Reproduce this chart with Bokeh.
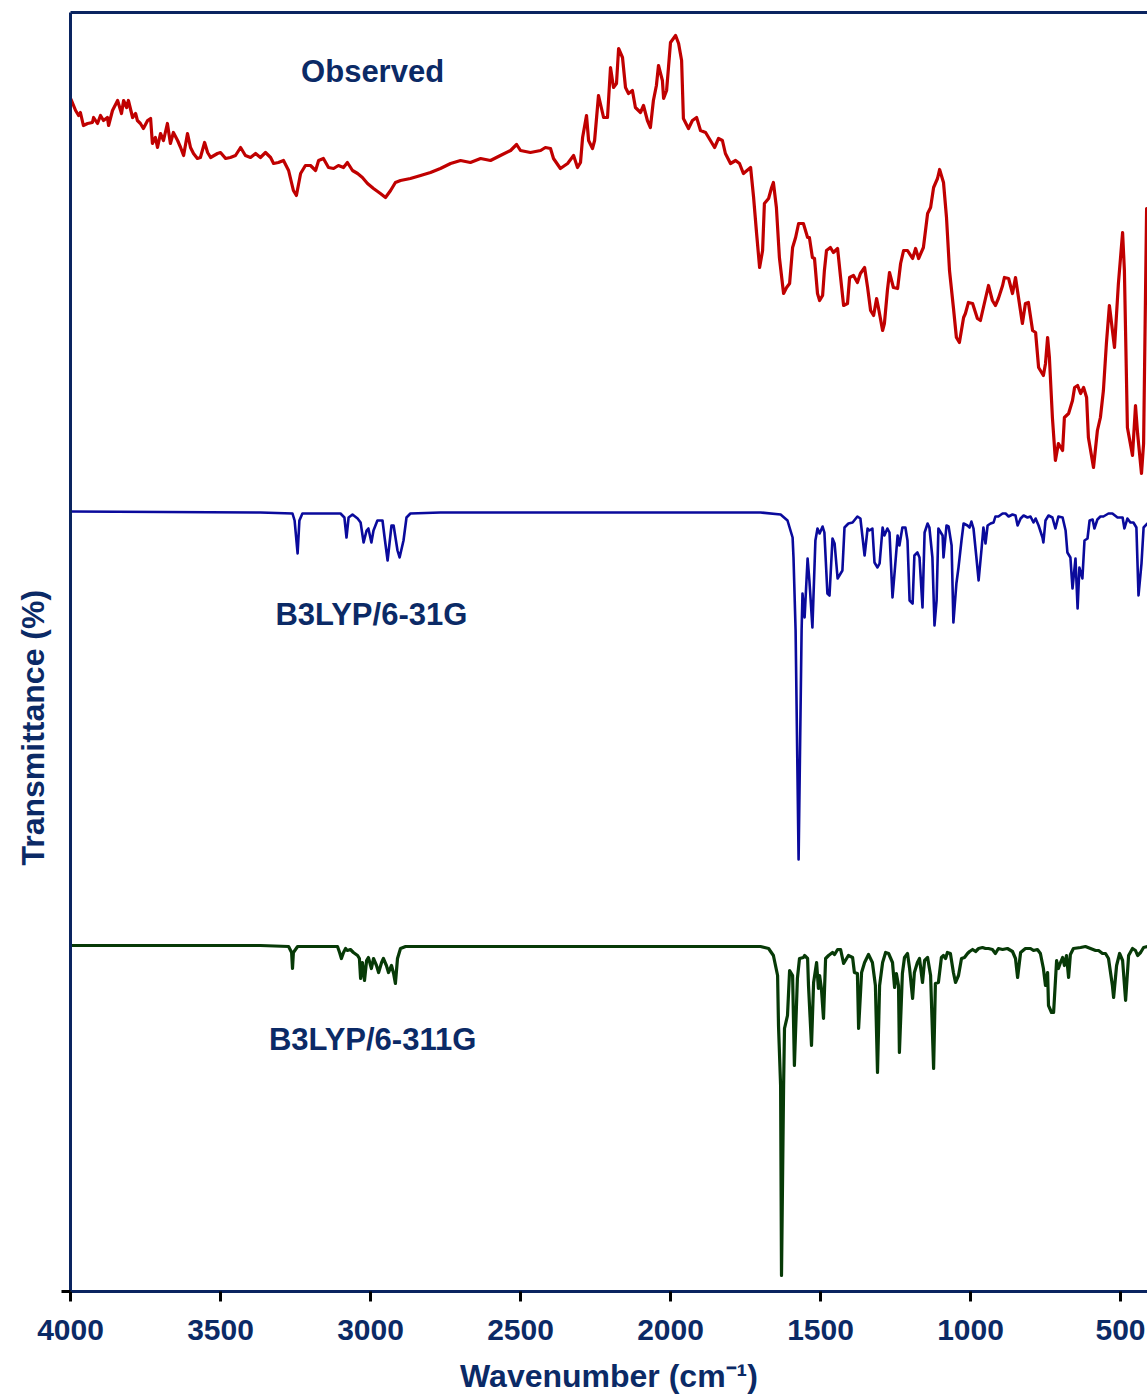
from bokeh.plotting import figure
from bokeh.models import Range1d, FixedTicker, LinearAxis, Label, Title
from bokeh.embed import file_html
from bokeh.resources import INLINE

# ---------------- data (wavenumber cm-1, offset transmittance a.u.) ----------------
observed = [(3998,1191),(3983,1180),(3973,1175),(3967,1178),(3957,1165),(3943,1167),(3927,1168),(3923,1173),
    (3910,1167),(3900,1175),(3890,1170),(3877,1173),(3873,1165),(3860,1180),(3843,1190),(3830,1177),(3823,1190),
    (3813,1183),(3807,1190),(3793,1173),(3783,1177),(3777,1170),(3767,1167),(3757,1162),(3743,1170),(3733,1172),
    (3727,1147),(3717,1153),(3710,1143),(3700,1157),(3690,1150),(3677,1167),(3667,1147),(3657,1158),(3643,1150),
    (3633,1143),(3623,1135),(3610,1157),(3600,1143),(3590,1137),(3577,1132),(3567,1133),(3553,1148),(3543,1138),
    (3533,1133),(3510,1137),(3500,1138),(3483,1132),(3467,1133),(3450,1135),(3433,1143),(3417,1135),(3400,1133),
    (3383,1137),(3367,1133),(3350,1138),(3333,1133),(3323,1127),(3307,1128),(3290,1130),(3273,1120),(3257,1100),
    (3247,1095),(3233,1117),(3217,1125),(3200,1125),(3183,1120),(3173,1130),(3157,1132),(3140,1123),(3123,1122),
    (3107,1125),(3090,1123),(3077,1128),(3060,1120),(3043,1117),(3027,1113),(3010,1107),(2990,1102),(2967,1097),
    (2950,1093),(2933,1100),(2917,1108),(2900,1110),(2867,1112),(2833,1115),(2800,1118),(2767,1122),(2733,1127),
    (2700,1130),(2667,1128),(2633,1132),(2600,1130),(2567,1135),(2533,1140),(2513,1146),(2500,1140),(2467,1138),
    (2433,1140),(2417,1143),(2400,1142),(2390,1132),(2367,1122),(2343,1127),(2323,1135),(2310,1123),(2300,1128),
    (2293,1153),(2280,1175),(2273,1150),(2260,1142),(2253,1150),(2240,1195),(2223,1173),(2210,1173),(2200,1223),
    (2190,1203),(2180,1207),(2173,1242),(2160,1233),(2150,1203),(2140,1197),(2127,1200),(2117,1183),(2100,1178),
    (2090,1185),(2077,1170),(2067,1163),(2057,1190),(2047,1205),(2040,1225),(2027,1210),(2023,1192),(2013,1200),
    (2007,1222),(2000,1248),(1983,1255),(1973,1247),(1963,1230),(1957,1172),(1940,1162),(1927,1170),(1913,1173),
    (1900,1160),(1883,1158),(1867,1150),(1853,1143),(1840,1152),(1827,1150),(1817,1137),(1800,1127),(1783,1130),
    (1770,1127),(1757,1117),(1733,1123),(1723,1093),(1713,1057),(1703,1023),(1693,1040),(1687,1087),(1673,1092),
    (1663,1103),(1657,1108),(1647,1083),(1637,1033),(1627,1007),(1623,997),(1613,1003),(1603,1007),(1593,1043),
    (1583,1053),(1573,1067),(1557,1067),(1543,1053),(1537,1053),(1527,1033),(1520,1032),(1510,997),(1503,990),
    (1493,995),(1487,1020),(1480,1040),(1467,1043),(1457,1038),(1443,1042),(1433,1013),(1423,985),(1410,987),
    (1403,1013),(1390,1015),(1377,1008),(1367,1017),(1353,1023),(1343,1003),(1333,980),(1323,975),(1313,992),
    (1307,983),(1293,960),(1287,967),(1277,1000),(1270,1018),(1257,1003),(1243,1002),(1233,1027),(1223,1040),
    (1210,1040),(1193,1032),(1183,1042),(1173,1032),(1157,1043),(1143,1077),(1133,1083),(1123,1103),(1110,1112),
    (1103,1121),(1090,1108),(1080,1073),(1070,1020),(1057,983),(1047,953),(1037,948),(1023,973),(1017,977),
    (1007,988),(993,987),(977,972),(967,970),(957,983),(940,1005),(927,990),(917,985),(907,992),(893,1005),
    (887,1013),(873,1012),(860,997),(850,1013),(840,993),(827,967),(817,987),(807,988),(793,960),(783,958),
    (773,923),(757,915),(750,927),(743,953),(737,933),(727,873),(717,830),(707,847),(693,840),(687,873),(673,877),
    (660,890),(653,903),(643,905),(633,897),(623,903),(613,893),(607,853),(590,823),(577,860),(567,873),(557,900),
    (547,947),(537,985),(520,943),(507,1007),(493,1058),(487,1020),(477,863),(460,835),(450,885),(443,857),
    (430,817),(423,847),(413,1082)]

b3lyp_631g = [(4010,779),(3367,778),(3260,777),(3253,770),(3243,737),(3237,770),(3227,777),(3100,777),(3087,773),
    (3080,753),(3073,773),(3060,776),(3043,772),(3033,768),(3023,748),(3013,760),(3007,762),(2997,748),(2990,760),
    (2977,770),(2960,770),(2953,753),(2943,730),(2930,765),(2923,765),(2910,740),(2903,733),(2890,750),(2880,773),
    (2867,777),(2767,778),(1700,778),(1633,776),(1610,770),(1593,753),(1590,733),(1583,660),(1573,431),(1563,660),
    (1560,697),(1553,673),(1543,732),(1537,710),(1527,663),(1517,750),(1510,762),(1503,757),(1493,764),(1487,758),
    (1477,697),(1470,695),(1460,752),(1453,747),(1443,712),(1427,720),(1420,763),(1407,767),(1393,768),(1377,774),
    (1367,772),(1353,735),(1343,762),(1337,760),(1327,762),(1320,728),(1310,723),(1303,727),(1293,763),(1287,755),
    (1277,762),(1270,758),(1260,693),(1253,718),(1243,755),(1237,745),(1227,763),(1217,763),(1210,750),(1203,690),
    (1193,687),(1187,735),(1177,738),(1170,733),(1160,683),(1153,758),(1143,767),(1137,763),(1127,733),(1120,665),
    (1113,690),(1107,762),(1093,755),(1090,733),(1080,765),(1073,764),(1063,745),(1057,668),(1047,707),(1040,723),
    (1030,750),(1023,767),(1010,765),(1003,763),(997,769),(990,762),(980,732),(973,710),(963,742),(957,763),
    (950,747),(943,765),(933,767),(923,768),(917,774),(907,774),(893,777),(883,777),(873,774),(860,776),(850,775),
    (843,765),(833,772),(823,775),(810,773),(800,774),(790,768),(783,772),(773,765),(760,753),(757,748),(750,770),
    (740,775),(727,773),(717,762),(707,774),(693,773),(683,760),(677,738),(667,733),(660,702),(650,732),(643,682),
    (637,723),(627,712),(620,750),(610,752),(603,770),(593,771),(587,762),(577,771),(567,774),(557,774),(540,777),
    (527,777),(510,773),(493,773),(487,762),(477,772),(467,768),(457,768),(447,763),(440,695),(430,727),(423,763),
    (410,767)]

b3lyp_6311g = [(4010,345),(3367,345),(3273,344),(3263,338),(3260,322),(3257,338),(3243,344),(3110,344),(3103,338),
    (3097,332),(3090,338),(3083,342),(3077,340),(3067,341),(3057,338),(3043,335),(3037,332),(3033,312),(3027,328),
    (3020,310),(3013,330),(3007,333),(2997,322),(2990,332),(2980,325),(2973,318),(2963,328),(2957,332),(2947,325),
    (2940,318),(2930,325),(2923,317),(2917,307),(2910,332),(2900,342),(2883,344),(2767,344),(1700,344),(1673,342),
    (1657,335),(1643,315),(1640,265),(1633,205),(1630,15),(1623,205),(1620,262),(1610,275),(1603,320),(1593,315),
    (1587,225),(1577,312),(1570,332),(1557,333),(1553,335),(1543,332),(1540,305),(1530,245),(1523,308),(1513,328),
    (1507,302),(1503,315),(1497,302),(1490,272),(1483,332),(1473,335),(1460,338),(1453,336),(1443,341),(1433,341),
    (1423,327),(1413,332),(1407,335),(1393,333),(1387,318),(1377,317),(1373,262),(1363,318),(1353,328),(1340,336),
    (1327,328),(1317,305),(1310,218),(1303,305),(1293,328),(1283,338),(1273,337),(1260,328),(1253,303),(1247,317),
    (1240,305),(1237,238),(1227,317),(1220,333),(1210,337),(1203,322),(1193,292),(1187,318),(1177,328),(1170,332),
    (1160,308),(1153,330),(1143,333),(1133,315),(1123,222),(1117,307),(1107,308),(1097,333),(1090,335),(1083,332),
    (1077,338),(1067,337),(1057,318),(1050,308),(1040,315),(1030,332),(1020,333),(1010,337),(1003,339),(993,341),
    (983,339),(973,342),(960,343),(950,342),(940,342),(927,341),(917,337),(907,342),(893,341),(877,342),(860,339),
    (850,332),(843,313),(833,338),(817,342),(800,342),(790,340),(777,341),(767,337),(757,322),(750,305),(743,318),
    (740,285),(730,278),(723,278),(713,330),(707,322),(700,328),(693,333),(687,325),(680,335),(673,313),(667,336),
    (657,342),(633,343),(617,344),(600,342),(583,340),(573,340),(560,337),(550,337),(540,332),(527,305),(523,293),
    (513,325),(503,337),(493,330),(483,290),(473,335),(460,342),(450,340),(443,335),(433,338),(423,343),(410,344)]

x_ticks = [4000, 3500, 3000, 2500, 2000, 1500, 1000, 500]
series_labels = ["Observed", "B3LYP/6-31G", "B3LYP/6-311G"]
label_pos = [(2993, 1219), (2997, 676), (2993, 251)]
y_title = "Transmittance (%)"

NAVY = "#0b2a66"
AXIS = "#0a2460"
COLORS = ["#c00000", "#0a0a9c", "#073a07"]
WIDTHS = [3.2, 2.6, 3.2]
FONT = "Liberation Sans"

p = figure(width=1147, height=1396, x_range=Range1d(4000, 410), y_range=Range1d(-1, 1278),
           output_backend="svg", toolbar_location=None,
           min_border_left=70, min_border_right=0, min_border_top=12, min_border_bottom=60)
p.grid.visible = False
p.outline_line_color = None
p.background_fill_color = "white"
p.border_fill_color = "white"

for data, col, w in zip([observed, b3lyp_631g, b3lyp_6311g], COLORS, WIDTHS):
    xs = [d[0] for d in data]
    ys = [d[1] for d in data]
    p.line(xs, ys, line_color=col, line_width=w, line_join="round", line_cap="round")

for txt, (lx, ly) in zip(series_labels, label_pos):
    p.add_layout(Label(x=lx, y=ly, text=txt, text_align="center", text_baseline="middle",
                       text_font=FONT, text_font_style="bold", text_font_size="31px", text_color=NAVY))

# x axis
xa = p.xaxis[0]
xa.ticker = FixedTicker(ticks=x_ticks)
xa.axis_line_color = AXIS
xa.axis_line_width = 3
xa.major_tick_line_color = "black"
xa.major_tick_line_width = 3
xa.major_tick_out = 10
xa.major_tick_in = 0
xa.minor_tick_line_color = None
xa.major_label_text_font = FONT
xa.major_label_text_font_style = "bold"
xa.major_label_text_font_size = "30px"
xa.major_label_text_color = NAVY
xa.major_label_standoff = 18
xa.axis_label = "Wavenumber (cm\u207b\u00b9)"
xa.axis_label_text_font = FONT
xa.axis_label_text_font_style = "bold"
xa.axis_label_text_font_size = "32px"
xa.axis_label_text_color = NAVY
xa.axis_label_standoff = 15

# y axis
ya = p.yaxis[0]
ya.ticker = FixedTicker(ticks=[-1])
ya.major_label_overrides = {-1: ""}
ya.major_label_text_font_size = "0px"
ya.axis_line_color = AXIS
ya.axis_line_width = 3
ya.major_tick_line_color = "black"
ya.major_tick_line_width = 3
ya.major_tick_out = 9
ya.major_tick_in = 0
ya.minor_tick_line_color = None

# y title, placed lower than the frame centre as in the original
yt = Title(text=y_title, align="left", offset=426, standoff=21,
           text_font=FONT, text_font_style="bold", text_font_size="32px", text_color=NAVY)
p.add_layout(yt, "left")

# top frame line
top = LinearAxis(ticker=FixedTicker(ticks=[]), axis_line_color=AXIS, axis_line_width=3,
                 major_tick_line_color=None, minor_tick_line_color=None,
                 major_label_text_font_size="0px")
p.add_layout(top, "above")

open("out.html", "w").write(file_html(p, INLINE))
